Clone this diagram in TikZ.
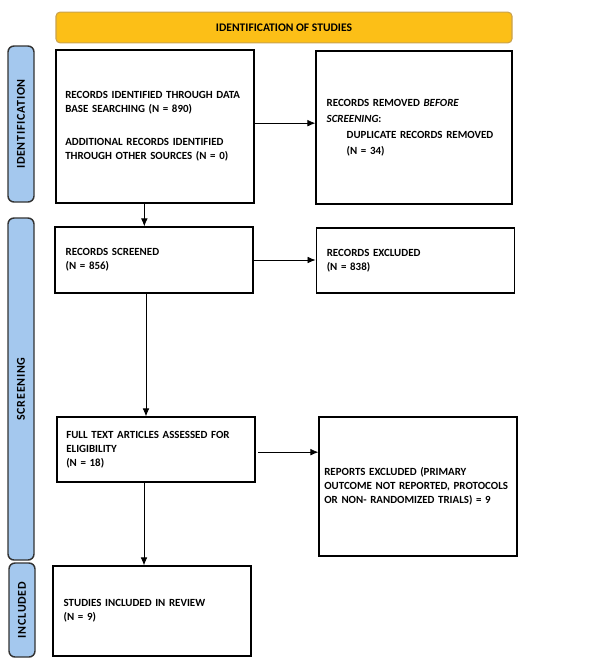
\documentclass[tikz,border=0pt]{standalone}
\usepackage{fontspec}
\setmainfont{Carlito}
\newfontfamily\etiqfont{Carlito}[LetterSpace=6]
\usetikzlibrary{arrows.meta}
\definecolor{orangeb}{HTML}{FCBF17}
\definecolor{bordb}{HTML}{C9A24E}
\definecolor{bleub}{HTML}{A4C8EE}
\hyphenpenalty=10000
\begin{document}
\begin{tikzpicture}[x=0.75pt,y=-0.75pt]
\tikzset{boite/.style={draw, line width=0.9pt, align=left, inner xsep=8pt, font=\bfseries\fontsize{8.2}{10.5}\selectfont},
  bande/.style={draw=black!80, fill=bleub, line width=1.1pt, rounded corners=4.5pt, rotate=90, minimum height=19.5pt, inner sep=0pt, font=\etiqfont\bfseries\fontsize{9}{10}\selectfont},
  fleche/.style={-{Latex[length=6pt,width=5pt]}, line width=0.6pt}}
\useasboundingbox (0,0) rectangle (610,665);
\node[draw=bordb, fill=orangeb, line width=0.8pt, rounded corners=3pt, minimum width=342pt, minimum height=23pt, font=\bfseries\fontsize{8.7}{10}\selectfont] (T) at (284,27.5) {IDENTIFICATION OF STUDIES};
\node[bande, minimum width=117pt] (S1) at (21,124) {IDENTIFICATION};
\node[bande, minimum width=256.5pt] (S2) at (21,389) {SCREENING};
\node[bande, minimum width=70.5pt] (S3) at (22,610) {INCLUDED};
\node[boite, inner xsep=7pt, minimum width=148.5pt, minimum height=114.75pt, text width=134.5pt] (B1) at (155,126.5)
  {RECORDS IDENTIFIED THROUGH DATA\\BASE SEARCHING (N = 890)\\[14pt]ADDITIONAL RECORDS IDENTIFIED\\THROUGH OTHER SOURCES (N = 0)\\[9pt]};
\node[boite, minimum width=147pt, minimum height=114.75pt, text width=131pt, font=\bfseries\fontsize{8.2}{12}\selectfont] (B2) at (414,127.5)
  {RECORDS REMOVED \textit{BEFORE}\\\textit{SCREENING}:\\\hspace*{15pt}DUPLICATE RECORDS REMOVED\\\hspace*{15pt}(N = 34)\\[10pt]};
\node[boite, minimum width=148.5pt, minimum height=49.5pt, text width=132.5pt] (B3) at (154,260)
  {RECORDS SCREENED\\(N = 856)};
\node[boite, minimum width=149pt, minimum height=48.75pt, text width=133pt] (B4) at (415.5,260.5)
  {RECORDS EXCLUDED\\(N = 838)};
\node[boite, inner xsep=7pt, minimum width=148.5pt, minimum height=48.75pt, text width=134.5pt] (B5) at (156,449.5)
  {FULL TEXT ARTICLES ASSESSED FOR\\ELIGIBILITY\\(N = 18)};
\node[boite, inner xsep=4pt, minimum width=148.5pt, minimum height=104.25pt, text width=140.5pt] (B6) at (418,486.5)
  {REPORTS EXCLUDED (PRIMARY\\OUTCOME NOT REPORTED, PROTOCOLS\\OR NON- RANDOMIZED TRIALS) = 9};
\node[boite, minimum width=148.5pt, minimum height=67.5pt, text width=132.5pt] (B7) at (152,611)
  {STUDIES INCLUDED IN REVIEW\\(N = 9)\\[14pt]};
\draw[fleche] ([yshift=2.5pt]B1.east) -- ([yshift=2.5pt]B1.east -| B2.west);
\draw[fleche] (B3.east) -- (B3.east -| B4.west);
\draw[fleche] ([xshift=2pt,yshift=-2pt]B5.east) -- ([yshift=-2pt]B5.east -| B6.west);
\draw[fleche] ([xshift=-8pt]B1.south) -- ([xshift=-8pt]B1.south |- B3.north);
\draw[fleche] ([xshift=-6pt]B3.south) -- ([xshift=-6pt]B3.south |- B5.north);
\draw[fleche] ([xshift=-9pt]B5.south) -- ([xshift=-9pt]B5.south |- B7.north);
\end{tikzpicture}
\end{document}
